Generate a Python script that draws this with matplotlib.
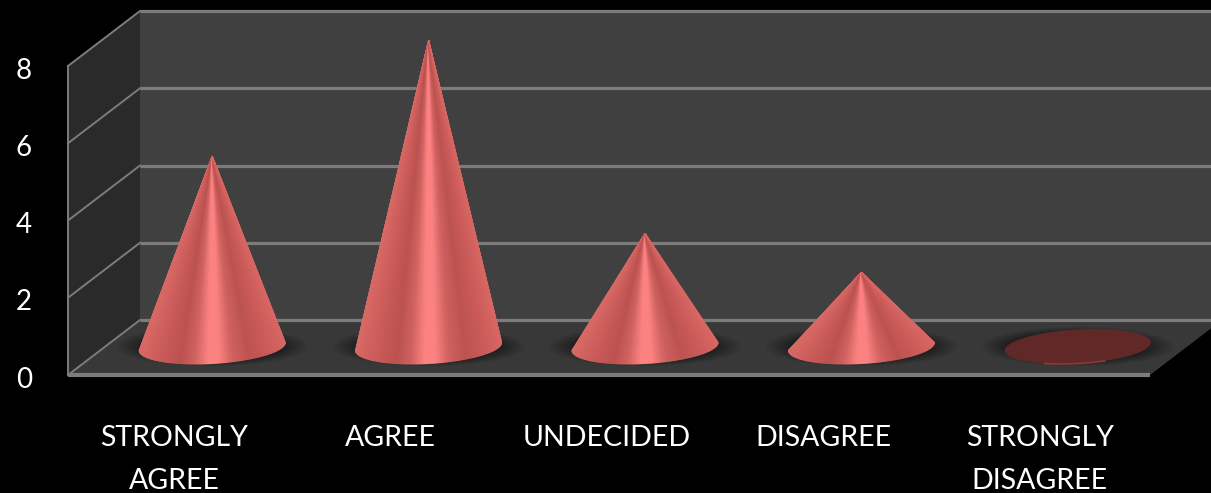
import numpy as np
import matplotlib
matplotlib.use("Agg")
import matplotlib.pyplot as plt
from matplotlib.colors import LinearSegmentedColormap
from matplotlib.patches import Ellipse, Polygon
from matplotlib.transforms import ScaledTranslation

plt.rcParams['font.family'] = ['Lato', 'DejaVu Sans']

categories = ["STRONGLY\nAGREE", "AGREE", "UNDECIDED", "DISAGREE", "STRONGLY\nDISAGREE"]
values = [5, 8, 3, 2, 0]
y_ticks = [0, 2, 4, 6, 8]

# front plane of the 3d box, in pixels
W, H = 1211, 493
fig = plt.figure(figsize=(W / 100, H / 100), dpi=100, facecolor="black")
ax = fig.add_axes([68 / W, (H - 375) / H, 1082 / W, 309 / H])
ax.set_xlim(-0.5, 4.5)
ax.set_ylim(0, 8)
ax.set_facecolor("none")
for s in ax.spines.values():
    s.set_visible(False)

px_x = 5 / 1082  # data units per pixel
px_y = 8 / 309
dx = 72 * px_x
dy = 55 * px_y
x0, x1 = -0.5, 4.5
top = 8

# walls and floor
ax.add_patch(Polygon([(x0 + dx, dy), (x1 + dx + 0.1, dy), (x1 + dx + 0.1, top + dy), (x0 + dx, top + dy)],
                     fc="#404040", ec="none", clip_on=False, zorder=1))
ax.add_patch(Polygon([(x0, 0), (x0 + dx, dy), (x0 + dx, top + dy), (x0, top)],
                     fc="#2a2a2a", ec="none", clip_on=False, zorder=1))
ax.add_patch(Polygon([(x0, 0), (x1, 0), (x1 + dx, dy), (x0 + dx, dy)],
                     fc="#383838", ec="none", clip_on=False, zorder=1))

# gridlines
line_kw = dict(color="#7c7c7c", lw=2.3, clip_on=False, zorder=2, solid_capstyle="butt")
for v in y_ticks:
    if v > 0:
        ax.plot([x0, x0 + dx], [v, v + dy], color="#7c7c7c", lw=1.4, clip_on=False, zorder=2)
    ax.plot([x0 + dx, x1 + dx + 0.1], [v + dy, v + dy], **line_kw)
ax.plot([x0, x0 + dx], [0, dy], color="#7c7c7c", lw=1.4, clip_on=False, zorder=2)
ax.plot([x0, x0], [0, top], color="#7c7c7c", lw=1.4, clip_on=False, zorder=2)
ax.plot([x0, x1], [0, 0], color="#7c7c7c", lw=3, clip_on=False, zorder=2, solid_capstyle="butt")

cone_cmap = LinearSegmentedColormap.from_list("cone", [
    (0.00, "#d86a66"), (0.10, "#ce5f5c"), (0.28, "#bc5250"), (0.38, "#d06360"),
    (0.47, "#fb8280"), (0.55, "#fb8280"), (0.64, "#d06361"), (0.76, "#bd5351"),
    (0.90, "#cc5c59"), (1.00, "#d86764"),
])

a = 73 * px_x   # base half width
b = 17 * px_y   # base half height
tilt = 4 * px_y
base_y = dy / 2 + 1 * px_y

for i, v in enumerate(values):
    xc = i + dx / 2
    # soft shadow on the floor
    for k in np.linspace(1, 0, 12):
        ax.add_patch(Ellipse((xc, base_y), 2 * a * (1.0 + 0.32 * k), 2 * b * (0.85 + 0.3 * k),
                             fc="black", ec="none", alpha=0.035, clip_on=False, zorder=3))

    t = np.linspace(np.pi, 2 * np.pi, 90)
    if v > 0:
        xb = xc + a * np.cos(t)
        yb = base_y + b * np.sin(t) + tilt * np.cos(t)
        X = np.vstack([np.full_like(xb, xc), xb])
        # tip sits slightly under the nominal height
        Y = np.vstack([np.full_like(yb, base_y + v - 3 * px_y), yb])
        C = np.vstack([np.cos(t), np.cos(t)])
        ax.pcolormesh(X, Y, C, cmap=cone_cmap, vmin=-1, vmax=1, shading="gouraud",
                      clip_on=False, zorder=4)
    else:
        t = np.linspace(0, 2 * np.pi, 120)
        ax.fill(xc + a * np.cos(t), base_y + b * np.sin(t) + tilt * np.cos(t),
                color="#602927", lw=0, clip_on=False, zorder=4)
        t = np.linspace(1.35 * np.pi, 1.62 * np.pi, 30)
        ax.plot(xc + a * np.cos(t), base_y + b * np.sin(t) + tilt * np.cos(t),
                color="#8f3834", lw=1.2, clip_on=False, zorder=5)

ax.set_xticks(range(len(categories)))
ax.set_xticklabels(categories, color="white", fontsize=20.5, linespacing=1.8)
ax.set_yticks(y_ticks)
ax.set_yticklabels([str(v) for v in y_ticks], color="white", fontsize=20)
ax.tick_params(axis="x", length=0, pad=36)
ax.tick_params(axis="y", length=0, pad=26)
for lab in ax.get_yticklabels():
    lab.set_transform(lab.get_transform() + ScaledTranslation(0, -1.5 / 72, fig.dpi_scale_trans))
for lab in ax.get_xticklabels():
    lab.set_transform(lab.get_transform() + ScaledTranslation(-2 / 100, 0, fig.dpi_scale_trans))

fig.savefig("out.png", dpi=100, facecolor="black")
